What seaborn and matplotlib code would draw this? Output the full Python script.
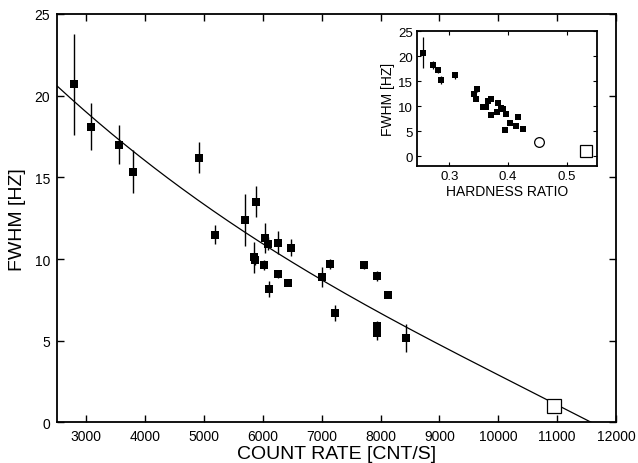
import numpy as np
import pandas as pd
import matplotlib
matplotlib.use("Agg")
import matplotlib.pyplot as plt
import seaborn as sns

# ---- main panel data ----
count_rate = [2790, 3070, 3560, 3790, 4920, 5190, 5700, 5880, 5850, 5870,
              6030, 6080, 6250, 6470, 6020, 6110, 6260, 6420, 7000, 7140,
              7230, 7720, 7940, 7940, 7940, 8130, 8430]
fwhm = [20.7, 18.1, 17.0, 15.35, 16.2, 11.5, 12.4, 13.5, 10.1, 9.95,
        11.3, 10.95, 11.0, 10.7, 9.66, 8.15, 9.07, 8.56, 8.89, 9.68,
        6.7, 9.62, 8.95, 5.92, 5.46, 7.8, 5.15]
fwhm_err = [3.1, 1.45, 1.2, 1.3, 0.95, 0.6, 1.6, 0.95, 0.95, 0.3,
            0.9, 0.4, 0.7, 0.5, 0.3, 0.5, 0.2, 0.2, 0.6, 0.3,
            0.5, 0.25, 0.3, 0.3, 0.4, 0.2, 0.85]
open_count = [10950]
open_fwhm = [1.03]

# fit curve (Newton-form cubic in count rate / 1000)
fit_nodes = [2.5, 4.592, 7.993]
fit_coefs = [20.6, -2.964, 0.1274, -0.00771]

# ---- inset data ----
hardness = [0.256, 0.273, 0.280, 0.285, 0.309, 0.342, 0.347, 0.346, 0.357,
            0.362, 0.365, 0.370, 0.370, 0.383, 0.381, 0.388, 0.392, 0.397,
            0.394, 0.403, 0.413, 0.416, 0.425]
hr_fwhm = [20.7, 18.2, 17.2, 15.3, 16.2, 12.4, 13.5, 11.4, 9.9,
           9.8, 11.1, 11.4, 8.2, 10.7, 8.9, 9.7, 9.4, 8.5,
           5.2, 6.7, 6.1, 7.9, 5.5]
hr_err = [3.1, 0.8, 0.6, 0.8, 0.7, 0.5, 0.6, 0.3, 0.3,
          0.3, 0.3, 0.3, 0.2, 0.3, 0.2, 0.2, 0.2, 0.2,
          0.2, 0.2, 0.2, 0.2, 0.2]
circle_hr = [0.453]
circle_fwhm = [2.9]
square_hr = [0.532]
square_fwhm = [1.1]

sns.set_style("ticks")
plt.rcParams['font.family'] = ['Liberation Sans', 'DejaVu Sans']
plt.rcParams.update({
    'axes.linewidth': 1.3, 'axes.edgecolor': 'black', 'text.color': 'black',
    'axes.labelcolor': 'black', 'xtick.color': 'black', 'ytick.color': 'black',
})

fig = plt.figure(figsize=(6.38, 4.64), dpi=100)
ax = fig.add_axes([0.0893, 0.0873, 0.8762, 0.8804])

df = pd.DataFrame({"count": count_rate, "fwhm": fwhm, "err": fwhm_err})
ax.errorbar(df["count"], df["fwhm"], yerr=df["err"], fmt="none",
            ecolor="black", elinewidth=1.0, capsize=0, zorder=2)
sns.scatterplot(data=df, x="count", y="fwhm", marker="s", s=34,
                color="black", edgecolor="black", linewidth=0, ax=ax, zorder=3)

u = np.linspace(2.5, 12.0, 400)
fit = (fit_coefs[0] + fit_coefs[1] * (u - fit_nodes[0])
       + fit_coefs[2] * (u - fit_nodes[0]) * (u - fit_nodes[1])
       + fit_coefs[3] * (u - fit_nodes[0]) * (u - fit_nodes[1]) * (u - fit_nodes[2]))
sns.lineplot(x=u * 1000, y=fit, color="black", linewidth=0.9, ax=ax, zorder=2)

ax.plot(open_count, open_fwhm, marker="s", markersize=10, markerfacecolor="white",
        markeredgecolor="black", markeredgewidth=0.9, linestyle="none", zorder=4)

ax.set_xlim(2500, 12000)
ax.set_ylim(0, 25)
ax.set_xticks(np.arange(3000, 12001, 1000))
ax.set_yticks(np.arange(0, 26, 5))
ax.tick_params(direction="in", top=True, right=True, length=5, width=1,
               labelsize=10, pad=5)
ax.set_xlabel("COUNT RATE [CNT/S]", fontsize=14, labelpad=1)
ax.set_ylabel("FWHM [HZ]", fontsize=14, labelpad=6)

# ---- inset ----
axi = fig.add_axes([0.6536, 0.640, 0.2821, 0.291])
di = pd.DataFrame({"hr": hardness, "fwhm": hr_fwhm, "err": hr_err})
axi.errorbar(di["hr"], di["fwhm"], yerr=di["err"], fmt="none",
             ecolor="black", elinewidth=0.9, capsize=0, zorder=2)
sns.scatterplot(data=di, x="hr", y="fwhm", marker="s", s=20,
                color="black", edgecolor="black", linewidth=0, ax=axi, zorder=3)
axi.plot(circle_hr, circle_fwhm, marker="o", markersize=7, markerfacecolor="white",
         markeredgecolor="black", markeredgewidth=0.9, linestyle="none")
axi.plot(square_hr, square_fwhm, marker="s", markersize=8, markerfacecolor="white",
         markeredgecolor="black", markeredgewidth=0.9, linestyle="none")
axi.set_xlim(0.245, 0.551)
axi.set_ylim(-2, 25)
axi.set_xticks([0.3, 0.4, 0.5])
axi.set_yticks(np.arange(0, 26, 5))
axi.tick_params(direction="in", top=True, right=True, length=3, width=0.8,
                labelsize=9.5, pad=3)
axi.set_xlabel("HARDNESS RATIO", fontsize=10, labelpad=1)
axi.set_ylabel("FWHM [HZ]", fontsize=10, labelpad=2)

fig.savefig("out.png", dpi=100)
